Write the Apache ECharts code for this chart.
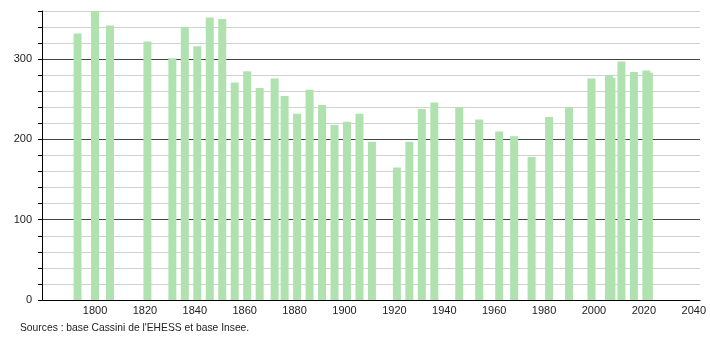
<!DOCTYPE html>
<html>
<head>
<meta charset="utf-8">
<script src="https://cdn.jsdelivr.net/npm/echarts@6/dist/echarts.min.js"></script>
<style>
html,body{margin:0;padding:0;background:#fff;}
#c{width:710px;height:340px;}
</style>
</head>
<body>
<div id="c"></div>
<script>
const years = [1793,1800,1806,1821,1831,1836,1841,1846,1851,1856,1861,1866,1872,1876,1881,1886,1891,1896,1901,1906,1911,1921,1926,1931,1936,1946,1954,1962,1968,1975,1982,1990,1999,2006,2007,2011,2016,2021,2022];
const population = [332,360,342,322,301,340,316,352,350,271,285,264,276,254,232,262,243,218,222,232,197,165,197,238,246,240,225,210,204,178,228,240,276,280,277,297,284,286,283];
const xTickLabels = [1800,1820,1840,1860,1880,1900,1920,1940,1960,1980,2000,2020,2040];
const yTickLabels = [0,100,200,300];
const sourceText = "Sources : base Cassini de l'EHESS et base Insee.";

const chart = echarts.init(document.getElementById('c'), null, {renderer:'canvas'});
const gridColors = ['#444','#d0d0d0','#d0d0d0','#d0d0d0','#d0d0d0'];
chart.setOption({
  animation:false,
  backgroundColor:'#fff',
  grid:{left:42,right:10,top:11,bottom:40,containLabel:false},
  xAxis:{
    type:'value',min:1778.75,max:2042.5,interval:1.25,
    axisLine:{show:true,lineStyle:{color:'#000',width:1}},
    axisTick:{show:false},
    splitLine:{show:false},
    axisLabel:{
      interval:0,hideOverlap:false,color:'#222',fontSize:11,fontFamily:'Liberation Sans, Arial, sans-serif',margin:5,
      formatter:function(v){ return xTickLabels.indexOf(Math.round(v))>=0 && Math.abs(v-Math.round(v))<1e-6 ? String(Math.round(v)) : ''; }
    }
  },
  yAxis:{
    type:'value',min:0,max:360,interval:20,
    axisLine:{show:true,lineStyle:{color:'#000',width:1}},
    axisTick:{show:true,length:4,lineStyle:{color:'#000'}},
    splitLine:{show:true,lineStyle:{color:gridColors,width:1}},
    axisLabel:{
      color:'#222',fontSize:11,fontFamily:'Liberation Sans, Arial, sans-serif',margin:10,
      formatter:function(v){ return yTickLabels.indexOf(v)>=0 ? String(v) : ''; }
    }
  },
  series:[{
    type:'bar',
    data:years.map((y,i)=>[y,population[i]]),
    barWidth:8,
    itemStyle:{color:'#b0e2b0'},
    z:1
  }],
  graphic:[{
    type:'text',left:20,top:323,
    style:{text:sourceText,fill:'#222',fontSize:10.3,fontFamily:'Liberation Sans, Arial, sans-serif'}
  }]
});
</script>
</body>
</html>
